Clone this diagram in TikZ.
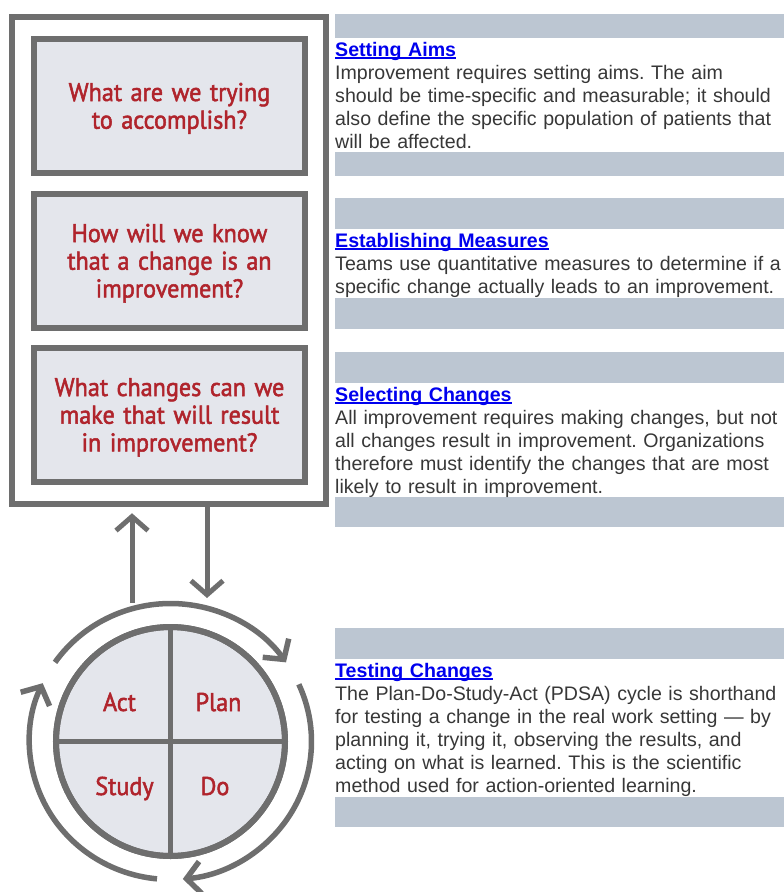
\documentclass[tikz,border=0pt]{standalone}
\usepackage{fontspec}
\setmainfont{Liberation Sans}
\newfontfamily\qfont[FakeStretch=0.94,FakeBold=2]{PT Sans}
\usetikzlibrary{arrows.meta}
\frenchspacing

\definecolor{linegray}{RGB}{110,110,110}
\definecolor{panelfill}{RGB}{228,230,236}
\definecolor{qred}{RGB}{176,36,44}
\definecolor{bandblue}{RGB}{188,198,210}
\definecolor{linkblue}{RGB}{0,0,238}
\definecolor{bodygray}{RGB}{55,55,55}

% bold link-style heading with an underline that runs through the descenders
\newsavebox\headbox
\newcommand\linkhead[1]{\sbox\headbox{\color{linkblue}\bfseries #1}%
  {\color{linkblue}\rlap{\rule[-2.6pt]{\wd\headbox}{1.5pt}}\usebox\headbox}}

\begin{document}
\begin{tikzpicture}[x=1pt,y=1pt,
  frame/.style={draw=linegray, line width=5.5pt, fill=white,
    minimum width=314pt, minimum height=487pt, inner sep=0},
  qbox/.style={draw=linegray, line width=6pt, fill=panelfill,
    minimum width=271pt, minimum height=134pt, inner sep=0},
  qtext/.style={anchor=base, text width=270pt, align=center, text=qred,
    inner sep=0, font=\qfont\fontsize{25.7pt}{27.7pt}\selectfont},
  pdsa/.style={circle, draw=linegray, line width=6pt, fill=panelfill,
    minimum size=229pt, inner sep=0},
  phase/.style={anchor=base, text=qred, inner sep=0,
    font=\qfont\fontsize{25.7pt}{28pt}\selectfont},
  cross/.style={draw=linegray, line width=5pt},
  vline/.style={draw=linegray, line width=5pt,
    -{Straight Barb[length=14pt,width=32pt]}},
  cycarrow/.style={draw=linegray, line width=5.5pt,
    -{Straight Barb[length=14pt,width=32pt]}},
  band/.style={fill=bandblue},
  textblock/.style={anchor=base west, text width=470pt, align=left,
    inner sep=0, text=bodygray, font=\fontsize{19.6pt}{23pt}\selectfont}
]
\useasboundingbox (0,0) rectangle (784,-892);

% ---- model for improvement: three questions ----
\node[frame] (frame) at (169,-260.5) {};
\node[qbox] (q1) at (169.5,-106) {};
\node[qbox] (q2) at (169.5,-261) {};
\node[qbox] (q3) at (169.5,-415) {};
\node[qtext] (q1t) at (169.5,-101) {What are we trying\\to accomplish?};
\node[qtext] (q2t) at (169.5,-242) {How will we know\\that a change is an\\improvement?};
\node[qtext] (q3t) at (169.5,-396) {What changes can we\\make that will result\\in improvement?};

% ---- PDSA wheel ----
\node[pdsa] (cyc) at (170.5,-741.5) {};
\draw[cross] (cyc.north) -- (cyc.south);
\draw[cross] (cyc.west) -- (cyc.east);
\draw[draw=linegray, line width=6pt] (cyc.center) circle[radius=114.5pt];
\node[phase] (act) at (119.5,-711) {Act};
\node[phase] (plan) at (218.5,-711) {Plan};
\node[phase] (study) at (124.5,-795) {Study};
\node[phase] (do) at (215,-795) {Do};

% cycle arrows around the wheel
\coordinate (cc) at (cyc.center);
\draw[cycarrow] (cc) ++(145:141pt and 138pt)
  arc[start angle=145, end angle=35, x radius=141pt, y radius=138pt];
\draw[cycarrow] (cc) ++(24.5:141pt and 138pt)
  arc[start angle=24.5, end angle=-85, x radius=141pt, y radius=138pt];
\draw[cycarrow] (cc) ++(264.5:141pt and 138pt)
  arc[start angle=264.5, end angle=155, x radius=141pt, y radius=138pt];

% links between the questions and the wheel
\coordinate (upfoot) at (132,-603);
\coordinate (downtip) at (207,-598);
\draw[vline] (upfoot) -- ([yshift=-6.5pt]upfoot |- frame.south);
\draw[vline] ([yshift=3pt]downtip |- frame.south) -- (downtip);

% ---- descriptions ----
\fill[band] (335,-14) rectangle (784,-38);
\fill[band] (335,-152) rectangle (784,-176);
\fill[band] (335,-198) rectangle (784,-229);
\fill[band] (335,-298) rectangle (784,-329);
\fill[band] (335,-352) rectangle (784,-383);
\fill[band] (335,-497) rectangle (784,-527);
\fill[band] (335,-628) rectangle (784,-659);
\fill[band] (335,-797) rectangle (784,-827);

\node[textblock] (aims) at (335,-56) {\linkhead{Setting Aims}\\
Improvement requires setting aims. The aim\\
should be time-specific and measurable; it should\\
also define the specific population of patients that\\
will be affected.};

\node[textblock] (measures) at (335,-247) {\linkhead{Establishing Measures}\\
Teams use quantitative measures to determine if a\\
specific change actually leads to an improvement.};

\node[textblock] (selecting) at (335,-401) {\linkhead{Selecting Changes}\\
All improvement requires making changes, but not\\
all changes result in improvement. Organizations\\
therefore must identify the changes that are most\\
likely to result in improvement.};

\node[textblock] (testing) at (335,-677) {\linkhead{Testing Changes}\\
The Plan-Do-Study-Act (PDSA) cycle is shorthand\\
for testing a change in the real work setting — by\\
planning it, trying it, observing the results, and\\
acting on what is learned. This is the scientific\\
method used for action-oriented learning.};
\end{tikzpicture}
\end{document}
